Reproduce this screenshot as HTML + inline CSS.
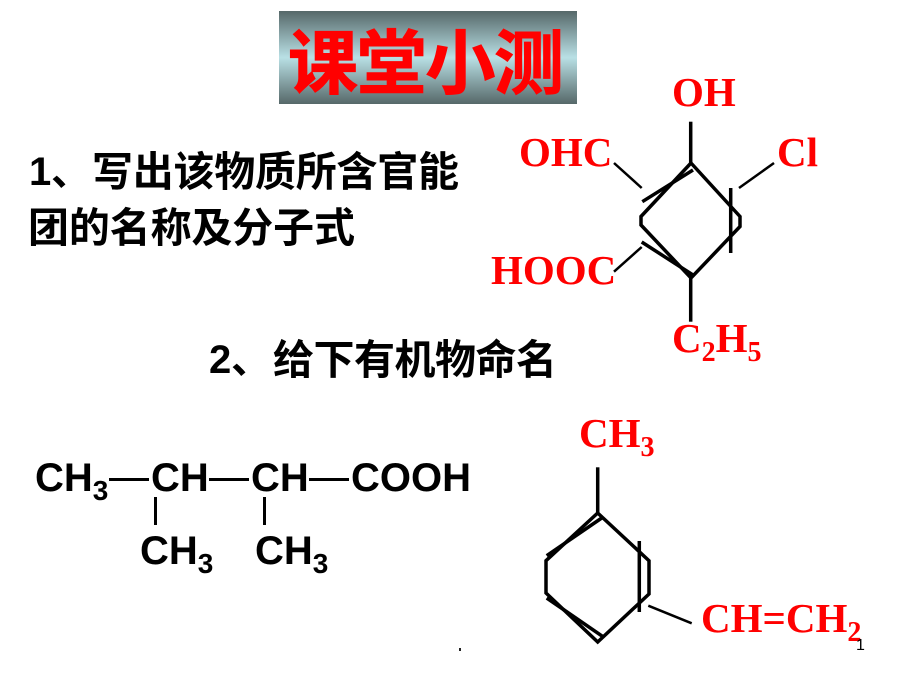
<!DOCTYPE html>
<html>
<head>
<meta charset="utf-8">
<style>
html,body{margin:0;padding:0;background:#fff;width:920px;height:690px;overflow:hidden}
svg{display:block}
.cn{font-family:"Liberation Sans","Noto Sans CJK SC",sans-serif;font-weight:700;fill:#000;font-size:40px}
.t{font-family:"Liberation Sans","Noto Sans CJK SC",sans-serif;font-weight:700;fill:#f00;font-size:70px;stroke:#f00;stroke-width:1}
.r{font-family:"Liberation Serif",serif;font-weight:700;fill:#f00;font-size:41px}
.b{font-family:"Liberation Sans",sans-serif;font-weight:700;fill:#000;font-size:40px}
.sr{font-size:28px}
.sb{font-size:28px}
.l{stroke:#000;stroke-width:3.5;fill:none}
</style>
</head>
<body>
<svg width="920" height="690" viewBox="0 0 920 690" xmlns="http://www.w3.org/2000/svg">
<defs>
<linearGradient id="g" x1="0" y1="0" x2="0" y2="1">
<stop offset="0" stop-color="#566869"/>
<stop offset="0.5" stop-color="#b9e0e5"/>
<stop offset="1" stop-color="#566869"/>
</linearGradient>
</defs>
<rect x="279" y="11" width="298" height="93" fill="url(#g)"/>
<text class="t" x="288" y="88" textLength="276" lengthAdjust="spacing">课堂小测</text>

<text class="cn" x="29" y="185">1</text>
<text class="cn" x="51" y="185">、</text>
<text class="cn" x="92" y="186" textLength="367" style="font-size:41px">写出该物质所含官能</text>
<text class="cn" x="28" y="242" textLength="327" style="font-size:41px">团的名称及分子式</text>
<text class="cn" x="209" y="373">2</text>
<text class="cn" x="231" y="373">、</text>
<text class="cn" x="273" y="374" textLength="284" style="font-size:41px">给下有机物命名</text>

<!-- Ring 1 -->
<text class="r" x="672" y="106">OH</text>
<text class="r" x="519" y="166">OHC</text>
<text class="r" x="777" y="166">Cl</text>
<text class="r" x="491" y="284">HOOC</text>
<text class="r" x="672" y="352">C<tspan class="sr" dy="9">2</tspan><tspan dy="-9">H</tspan><tspan class="sr" dy="9">5</tspan></text>
<path class="l" d="M691 163 L740 216.5 V226.5 L691 278 L641 225 V216.5 Z"/>
<path class="l" d="M642.3 201.7 L693 170"/>
<path class="l" d="M730.7 188 V253"/>
<path class="l" d="M641.7 242 L693 275"/>
<path class="l" d="M690.7 121.7 V163"/>
<path class="l" d="M690.7 278 V321.7"/>
<path class="l" style="stroke-width:2.5" d="M614 163 L641.7 188"/>
<path class="l" style="stroke-width:2.5" d="M774 163 L739 188"/>
<path class="l" style="stroke-width:2.5" d="M614 271.7 L641.7 247"/>

<!-- Chain -->
<text class="b" x="35" y="491">CH<tspan class="sb" dy="9">3</tspan></text>
<text class="b" x="151" y="491">CH</text>
<text class="b" x="251" y="491">CH</text>
<text class="b" x="351" y="491">COOH</text>
<path class="l" style="stroke-width:3" d="M109 479.5 H149 M209 479.5 H249 M309 479.5 H349"/>
<path class="l" style="stroke-width:3" d="M155.5 497 V525 M264.5 497 V525"/>
<text class="b" x="140" y="564">CH<tspan class="sb" dy="9">3</tspan></text>
<text class="b" x="255" y="564">CH<tspan class="sb" dy="9">3</tspan></text>

<!-- Ring 2 -->
<text class="r" x="579" y="447">CH<tspan class="sr" dy="9">3</tspan></text>
<text class="r" x="701" y="632">CH=CH<tspan class="sr" dy="9">2</tspan></text>
<path class="l" d="M597.7 513 L649 560.7 V594 L597.7 642 L546 593 V560.7 Z"/>
<path class="l" d="M546.7 555.7 L601.7 518"/>
<path class="l" d="M639.3 541 V612"/>
<path class="l" d="M546.7 598 L603 636.7"/>
<path class="l" d="M597.7 467.3 V513"/>
<path class="l" style="stroke-width:2.5" d="M648.3 605.7 L691.7 623.3"/>

<text x="856" y="650" font-family="Liberation Sans, sans-serif" font-size="16" fill="#000">1</text>
<rect x="459" y="648" width="2" height="3" fill="#222"/>
</svg>
</body>
</html>
